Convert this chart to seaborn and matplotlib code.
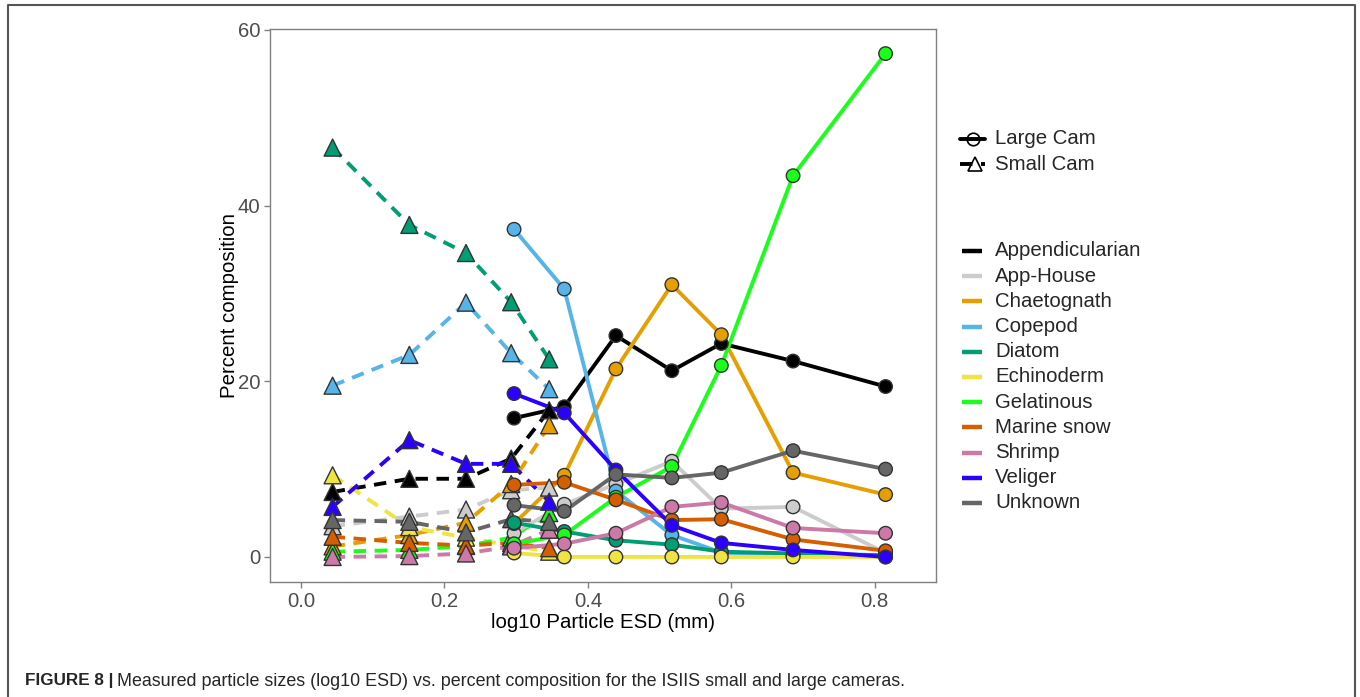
import matplotlib
matplotlib.use("Agg")
import matplotlib.pyplot as plt
import seaborn as sns
import pandas as pd
from matplotlib.lines import Line2D

# ---------------- data ----------------
taxa = ["Appendicularian", "App-House", "Chaetognath", "Copepod", "Diatom",
        "Echinoderm", "Gelatinous", "Marine snow", "Shrimp", "Veliger", "Unknown"]
colors = ["#000000", "#CCCCCC", "#E69F00", "#56B4E9", "#009E73",
          "#F0E442", "#1AFF1A", "#D55E00", "#CC79A7", "#2B00FF", "#666666"]

small_x = [0.044, 0.151, 0.230, 0.293, 0.346]
large_x = [0.297, 0.367, 0.439, 0.517, 0.586, 0.686, 0.815]

small_pct = {
    "Appendicularian": [7.4, 8.9, 8.9, 11.2, 16.7],
    "App-House":       [3.5, 4.6, 5.4, 7.6, 7.9],
    "Chaetognath":     [1.2, 2.5, 3.9, 8.3, 15.0],
    "Copepod":         [19.5, 23.0, 28.95, 23.2, 19.1],
    "Diatom":          [46.6, 37.8, 34.6, 29.0, 22.5],
    "Echinoderm":      [9.3, 3.4, 2.2, 1.3, 0.6],
    "Gelatinous":      [0.6, 0.8, 1.25, 2.2, 5.0],
    "Marine snow":     [2.3, 1.6, 1.3, 1.6, 1.0],
    "Shrimp":          [0.0, 0.1, 0.4, 1.2, 3.1],
    "Veliger":         [5.7, 13.3, 10.6, 10.6, 6.3],
    "Unknown":         [4.2, 4.0, 2.8, 4.3, 4.0],
}
large_pct = {
    "Appendicularian": [15.8, 17.1, 25.2, 21.2, 24.3, 22.3, 19.4],
    "App-House":       [2.7, 6.0, 8.3, 10.9, 5.5, 5.7, 0.45],
    "Chaetognath":     [3.8, 9.3, 21.4, 31.0, 25.3, 9.6, 7.1],
    "Copepod":         [37.3, 30.5, 7.5, 2.5, 0.5, 0.2, 0.1],
    "Diatom":          [3.9, 2.9, 1.9, 1.4, 0.6, 0.4, 0.2],
    "Echinoderm":      [0.45, 0.0, 0.0, 0.0, 0.0, 0.0, 0.0],
    "Gelatinous":      [1.5, 2.5, 6.8, 10.3, 21.8, 43.4, 57.3],
    "Marine snow":     [8.2, 8.5, 6.5, 4.2, 4.3, 2.0, 0.7],
    "Shrimp":          [1.0, 1.5, 2.7, 5.7, 6.2, 3.3, 2.7],
    "Veliger":         [18.6, 16.4, 9.9, 3.6, 1.6, 0.8, 0.0],
    "Unknown":         [5.9, 5.2, 9.4, 9.0, 9.6, 12.1, 10.0],
}
x_ticks = [0.0, 0.2, 0.4, 0.6, 0.8]
x_ticklabels = ["0.0", "0.2", "0.4", "0.6", "0.8"]
y_ticks = [0, 20, 40, 60]
cams = ["Large Cam", "Small Cam"]

def long_df(xs, table):
    rows = []
    for t in taxa:
        for xv, yv in zip(xs, table[t]):
            rows.append({"x": xv, "pct": yv, "taxon": t})
    return pd.DataFrame(rows)

df_small = long_df(small_x, small_pct)
df_large = long_df(large_x, large_pct)
palette = dict(zip(taxa, colors))

# ---------------- figure ----------------
sns.set_theme(style="white")
plt.rcParams["font.family"] = ["Liberation Sans", "DejaVu Sans"]

W, H = 1360, 697
fig = plt.figure(figsize=(W / 100, H / 100), dpi=100)
fx = lambda px: px / W
fy = lambda py: 1 - py / H

ax = fig.add_axes([fx(270), fy(582), fx(936) - fx(270), fy(29) - fy(582)])

LW = 2.8
FS = 14.7
sns.lineplot(data=df_small, x="x", y="pct", hue="taxon", hue_order=taxa,
             palette=palette, linewidth=LW, legend=False, ax=ax, zorder=2)
for ln in ax.get_lines():
    ln.set_dashes((3.2, 2.2))
    ln.set_dash_capstyle("butt")
sns.lineplot(data=df_large, x="x", y="pct", hue="taxon", hue_order=taxa,
             palette=palette, linewidth=LW, legend=False, ax=ax, zorder=2)
sns.scatterplot(data=df_small, x="x", y="pct", hue="taxon", hue_order=taxa,
                palette=palette, marker="^", s=150, edgecolor="#333333",
                linewidth=1.0, legend=False, ax=ax, zorder=3)
sns.scatterplot(data=df_large, x="x", y="pct", hue="taxon", hue_order=taxa,
                palette=palette, marker="o", s=95, edgecolor="#333333",
                linewidth=1.0, legend=False, ax=ax, zorder=3)

ax.set_xlim(-0.0433, 0.8853)
ax.set_ylim(-2.85, 60.1)
ax.set_xticks(x_ticks)
ax.set_xticklabels(x_ticklabels)
ax.set_yticks(y_ticks)
ax.set_xlabel("log10 Particle ESD (mm)", fontsize=FS, color="black", labelpad=2)
ax.set_ylabel("Percent composition", fontsize=FS, color="black", labelpad=-1)
ax.tick_params(axis="both", which="both", direction="out", length=4, width=1,
               color="#808080", labelsize=FS, labelcolor="#4D4D4D", pad=3,
               bottom=True, left=True)
for sp in ax.spines.values():
    sp.set_color("#808080")
    sp.set_linewidth(1.0)
ax.grid(False)

# ---------------- legends (manual) ----------------
cam_y = [139, 164]
fig.add_artist(Line2D([fx(960), fx(985)], [fy(cam_y[0])] * 2, color="black",
                      lw=LW, transform=fig.transFigure))
fig.add_artist(Line2D([fx(972.5)], [fy(cam_y[0])], marker="o", ms=9,
                      mfc="none", mec="black", mew=1.2, transform=fig.transFigure))
l2 = Line2D([fx(960), fx(985)], [fy(cam_y[1])] * 2, color="black", lw=LW,
            transform=fig.transFigure)
l2.set_dashes((3.2, 2.2))
fig.add_artist(l2)
fig.add_artist(Line2D([fx(975)], [fy(cam_y[1])], marker="^", ms=10,
                      mfc="none", mec="black", mew=1.2, transform=fig.transFigure))
for lab, yy in zip(cams, cam_y):
    fig.text(fx(995), fy(yy), lab, fontsize=FS, va="center", ha="left")

for i, (t, c) in enumerate(zip(taxa, colors)):
    yy = 251 + i * 25.2
    fig.add_artist(Line2D([fx(962), fx(982)], [fy(yy)] * 2, color=c, lw=3.2,
                          solid_capstyle="butt", transform=fig.transFigure))
    fig.text(fx(995), fy(yy), t, fontsize=FS, va="center", ha="left")

# ---------------- outer frame & caption ----------------
fig.add_artist(Line2D([fx(8), fx(8), fx(1355), fx(1355)],
                      [fy(700), fy(5), fy(5), fy(700)], color="#555555", lw=1.5,
                      transform=fig.transFigure))
t1 = fig.text(fx(25), fy(681), "FIGURE 8 |", fontsize=12.3, fontweight="bold",
              va="center", ha="left")
fig.canvas.draw()
bb = t1.get_window_extent(renderer=fig.canvas.get_renderer())
fig.text((bb.x1 + 4) / W, fy(681),
         "Measured particle sizes (log10 ESD) vs. percent composition for the ISIIS small and large cameras.",
         fontsize=12.9, va="center", ha="left")

fig.savefig("out.png", dpi=100)
